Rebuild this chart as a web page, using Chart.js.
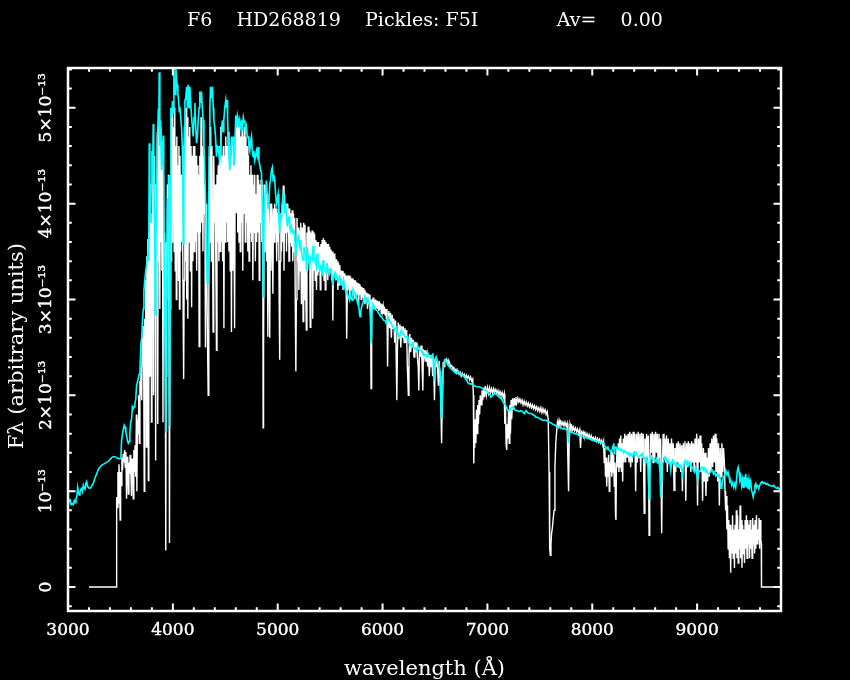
<!DOCTYPE html>
<html>
<head>
<meta charset="utf-8">
<script src="https://cdn.jsdelivr.net/npm/chart.js@4/dist/chart.umd.min.js"></script>
<style>
html,body{margin:0;padding:0;background:#000;overflow:hidden}
canvas{display:block}
</style>
</head>
<body>
<canvas id="c" width="850" height="680"></canvas>
<script>
// ---------- texts ----------
const titleText = "F6    HD268819    Pickles: F5I             Av=    0.00";
const xTitle = "wavelength (Å)";
const yTitle = "Fλ (arbitrary units)  ";

// ---------- axes ----------
const xRange = [3000, 9800];
const yRange = [-0.25, 5.415];           // flux in units of 1e-13
const xTickValues = [3000, 4000, 5000, 6000, 7000, 8000, 9000];
const yTickValues = [0, 1, 2, 3, 4, 5];
const yTickLabels = ["0", "10⁻¹³", "2×10⁻¹³", "3×10⁻¹³", "4×10⁻¹³", "5×10⁻¹³"];
const xMinorStep = 200;
const yMinorStep = 0.2;

// ---------- Pickles F5I template (cyan): [wavelength Å, flux /1e-13] ----------
const templateSpectrum = [
[3000,0.85],[3010,0.90],[3019,0.92],[3030,0.86],[3040,0.87],[3051,0.86],[3060,0.90],[3068,0.88],[3076,0.92],[3085,0.95],[3092,1.04],[3098,1.00],[3106,0.96],[3114,0.98],[3122,1.02],[3130,1.03],[3138,1.00],[3146,1.06],[3154,1.03],[3162,1.02],[3170,1.08],[3178,1.10],[3186,1.05],[3194,1.04],[3202,1.03],[3210,1.03],[3220,1.04],[3230,1.06],[3241,1.08],[3252,1.12],[3262,1.15],[3273,1.18],[3284,1.21],[3295,1.24],[3305,1.25],[3320,1.27],[3336,1.28],[3352,1.29],[3368,1.30],[3384,1.31],[3400,1.33],[3416,1.35],[3432,1.36],[3448,1.36],[3463,1.35],[3480,1.34],[3500,1.34],[3505,1.36],[3511,1.53],[3520,1.60],[3530,1.66],[3536,1.69],[3545,1.67],[3552,1.62],[3560,1.57],[3568,1.52],[3575,1.50],[3583,1.52],[3590,1.62],[3598,1.72],[3606,1.75],[3614,1.88],[3622,1.86],[3630,1.88],[3638,1.91],[3646,1.96],[3654,2.10],[3662,2.14],[3670,2.17],[3678,2.22],[3686,2.26],[3695,2.54],[3703,2.60],[3711,2.80],[3718,2.90],[3724,3.09],[3732,3.20],[3743,3.31],[3750,3.36],[3756,3.41],[3765,3.50],[3770,3.40],[3775,4.63],[3781,3.90],[3788,3.81],[3794,4.20],[3800,4.55],[3806,4.30],[3813,4.83],[3818,4.50],[3823,3.91],[3828,3.50],[3832,2.84],[3838,3.60],[3845,4.06],[3852,4.50],[3861,4.99],[3866,4.80],[3870,5.37],[3876,4.60],[3883,4.87],[3888,4.50],[3892,4.35],[3898,4.50],[3908,4.71],[3913,4.20],[3918,3.27],[3925,2.60],[3931,1.80],[3934,1.61],[3938,2.20],[3944,3.40],[3950,4.06],[3956,4.00],[3962,4.29],[3966,2.50],[3970,1.68],[3975,2.90],[3981,5.00],[3989,4.90],[3997,5.07],[4003,4.95],[4010,5.41],[4016,5.20],[4023,5.14],[4029,5.41],[4035,5.30],[4042,5.24],[4048,5.16],[4054,5.08],[4061,4.96],[4067,5.01],[4075,4.90],[4083,4.80],[4090,4.60],[4095,4.10],[4099,3.58],[4104,4.20],[4110,4.80],[4115,5.08],[4123,5.10],[4131,5.22],[4139,5.00],[4146,5.24],[4154,5.00],[4162,5.22],[4170,5.05],[4178,4.92],[4186,4.80],[4194,4.70],[4202,4.90],[4210,5.05],[4218,4.80],[4226,4.63],[4234,4.70],[4242,4.87],[4250,5.00],[4257,5.17],[4265,5.05],[4273,5.17],[4281,5.00],[4289,4.87],[4297,4.60],[4305,4.35],[4313,4.00],[4321,3.40],[4328,3.17],[4335,3.30],[4340,3.60],[4346,4.59],[4353,5.00],[4359,5.22],[4368,5.10],[4378,5.22],[4385,5.00],[4391,4.87],[4399,4.80],[4407,4.70],[4416,4.49],[4424,4.60],[4432,4.59],[4440,4.50],[4448,4.45],[4456,4.60],[4465,4.80],[4473,4.87],[4480,4.75],[4486,4.87],[4495,5.00],[4505,5.08],[4511,5.00],[4518,5.08],[4522,4.90],[4527,4.70],[4535,4.50],[4543,4.35],[4551,4.50],[4559,4.70],[4567,4.60],[4575,4.70],[4583,4.40],[4591,4.60],[4600,4.92],[4608,4.85],[4615,4.92],[4623,4.87],[4630,4.80],[4638,4.87],[4646,4.80],[4655,4.85],[4664,4.80],[4672,4.90],[4680,4.85],[4686,4.87],[4694,4.75],[4702,4.80],[4710,4.70],[4718,4.70],[4726,4.60],[4734,4.55],[4742,4.65],[4750,4.70],[4758,4.55],[4765,4.49],[4773,4.55],[4781,4.45],[4790,4.50],[4797,4.55],[4805,4.50],[4813,4.59],[4821,4.45],[4829,4.40],[4837,4.35],[4845,4.32],[4852,4.00],[4857,3.40],[4861,3.03],[4866,3.50],[4871,3.90],[4877,4.06],[4884,4.15],[4892,4.24],[4900,4.10],[4908,3.95],[4916,4.00],[4924,4.20],[4932,4.25],[4940,4.35],[4949,4.38],[4956,4.24],[4964,4.30],[4972,4.24],[4980,4.10],[4988,4.00],[4996,4.05],[5004,4.10],[5011,3.85],[5019,3.69],[5027,3.90],[5035,3.83],[5043,4.00],[5051,4.10],[5059,4.05],[5067,3.90],[5076,4.00],[5085,3.85],[5092,3.76],[5100,3.85],[5108,3.86],[5115,3.76],[5121,3.72],[5130,3.76],[5138,3.72],[5146,3.69],[5153,3.72],[5160,3.71],[5166,3.55],[5172,3.45],[5178,3.55],[5186,3.62],[5194,3.66],[5202,3.60],[5210,3.55],[5218,3.62],[5226,3.50],[5234,3.45],[5242,3.41],[5250,3.55],[5258,3.50],[5267,3.48],[5275,3.30],[5281,3.55],[5290,3.45],[5298,3.40],[5305,3.34],[5312,3.44],[5320,3.42],[5330,3.41],[5337,3.56],[5345,3.45],[5353,3.40],[5361,3.38],[5369,3.34],[5375,3.48],[5384,3.40],[5392,3.35],[5400,3.31],[5407,3.34],[5416,3.30],[5426,3.27],[5432,3.41],[5440,3.35],[5448,3.30],[5456,3.30],[5464,3.27],[5470,3.38],[5480,3.30],[5488,3.32],[5495,3.27],[5503,3.30],[5511,3.31],[5520,3.20],[5527,3.15],[5534,3.25],[5543,3.27],[5552,3.22],[5560,3.25],[5568,3.22],[5575,3.20],[5583,3.22],[5591,3.24],[5600,3.18],[5608,3.20],[5615,3.15],[5622,3.13],[5629,3.20],[5637,3.15],[5645,3.10],[5654,3.06],[5660,3.10],[5668,3.05],[5676,3.02],[5686,2.99],[5692,3.06],[5700,3.02],[5711,2.99],[5718,3.10],[5726,3.08],[5734,3.06],[5743,3.06],[5750,3.02],[5756,2.99],[5765,2.99],[5772,2.95],[5780,2.85],[5786,2.82],[5792,2.88],[5800,2.92],[5810,2.96],[5820,2.99],[5829,3.03],[5838,3.00],[5845,3.01],[5851,2.99],[5860,3.01],[5870,2.96],[5878,2.92],[5884,2.80],[5889,2.54],[5894,2.60],[5900,2.90],[5908,2.95],[5918,2.93],[5928,2.90],[5940,2.89],[5950,2.88],[5960,2.86],[5972,2.84],[5982,2.82],[5990,2.82],[6000,2.80],[6012,2.78],[6024,2.78],[6035,2.75],[6044,2.78],[6051,2.82],[6060,2.80],[6067,2.78],[6075,2.76],[6083,2.75],[6095,2.72],[6105,2.70],[6114,2.68],[6122,2.70],[6130,2.71],[6138,2.66],[6146,2.64],[6154,2.63],[6162,2.61],[6172,2.66],[6180,2.68],[6190,2.65],[6200,2.64],[6210,2.62],[6218,2.61],[6225,2.61],[6233,2.60],[6241,2.61],[6250,2.55],[6258,2.53],[6266,2.52],[6273,2.51],[6281,2.54],[6289,2.56],[6297,2.50],[6305,2.49],[6313,2.48],[6321,2.47],[6329,2.50],[6337,2.51],[6345,2.48],[6352,2.48],[6360,2.47],[6368,2.47],[6376,2.45],[6384,2.45],[6392,2.42],[6400,2.43],[6408,2.41],[6416,2.40],[6424,2.42],[6432,2.44],[6440,2.41],[6448,2.40],[6456,2.40],[6464,2.39],[6472,2.42],[6479,2.44],[6486,2.30],[6492,2.16],[6498,2.30],[6505,2.38],[6511,2.40],[6520,2.36],[6530,2.33],[6540,2.30],[6548,2.25],[6555,2.00],[6560,1.77],[6566,1.80],[6572,2.00],[6580,2.30],[6591,2.37],[6600,2.36],[6610,2.35],[6622,2.33],[6630,2.32],[6638,2.30],[6650,2.28],[6660,2.27],[6670,2.26],[6680,2.25],[6690,2.24],[6702,2.23],[6710,2.24],[6718,2.26],[6730,2.24],[6740,2.23],[6750,2.22],[6765,2.21],[6775,2.20],[6781,2.19],[6795,2.17],[6805,2.15],[6815,2.13],[6829,2.12],[6845,2.12],[6860,2.11],[6875,2.10],[6892,2.09],[6910,2.09],[6924,2.09],[6940,2.08],[6955,2.07],[6970,2.06],[6987,2.05],[7000,2.04],[7012,2.02],[7022,2.01],[7035,1.98],[7050,2.00],[7067,2.02],[7080,2.01],[7095,2.00],[7105,1.99],[7115,1.98],[7125,1.97],[7130,1.98],[7140,1.95],[7150,1.93],[7162,1.91],[7172,1.90],[7178,1.88],[7186,1.86],[7194,1.85],[7202,1.84],[7210,1.84],[7220,1.86],[7230,1.87],[7241,1.88],[7250,1.87],[7260,1.85],[7273,1.84],[7285,1.84],[7300,1.83],[7318,1.84],[7335,1.83],[7352,1.81],[7368,1.84],[7384,1.82],[7400,1.81],[7416,1.81],[7432,1.80],[7448,1.79],[7464,1.77],[7479,1.77],[7495,1.76],[7510,1.75],[7527,1.74],[7545,1.74],[7559,1.74],[7575,1.73],[7590,1.72],[7610,1.71],[7622,1.70],[7640,1.69],[7655,1.68],[7670,1.67],[7686,1.67],[7705,1.66],[7720,1.65],[7740,1.65],[7755,1.64],[7765,1.64],[7770,1.55],[7774,1.50],[7779,1.60],[7790,1.62],[7797,1.62],[7815,1.61],[7830,1.60],[7845,1.60],[7860,1.59],[7875,1.58],[7890,1.58],[7908,1.57],[7925,1.56],[7940,1.56],[7955,1.55],[7970,1.55],[7985,1.54],[8000,1.53],[8018,1.53],[8035,1.52],[8050,1.52],[8065,1.51],[8080,1.51],[8095,1.50],[8110,1.50],[8120,1.47],[8130,1.46],[8140,1.44],[8150,1.46],[8160,1.43],[8170,1.42],[8178,1.41],[8190,1.44],[8200,1.48],[8205,1.50],[8209,1.39],[8215,1.45],[8225,1.46],[8235,1.44],[8245,1.45],[8255,1.43],[8265,1.44],[8275,1.42],[8289,1.43],[8300,1.40],[8310,1.42],[8320,1.41],[8335,1.39],[8345,1.40],[8355,1.37],[8365,1.39],[8384,1.36],[8392,1.40],[8400,1.41],[8410,1.38],[8420,1.40],[8430,1.37],[8447,1.36],[8460,1.38],[8470,1.37],[8479,1.39],[8490,1.34],[8500,1.35],[8511,1.29],[8520,1.34],[8530,1.30],[8536,1.10],[8542,0.92],[8548,1.15],[8556,1.32],[8565,1.36],[8574,1.34],[8585,1.33],[8600,1.31],[8610,1.34],[8620,1.30],[8630,1.32],[8638,1.29],[8646,1.20],[8652,0.94],[8658,1.10],[8665,1.28],[8675,1.30],[8685,1.33],[8695,1.36],[8705,1.34],[8715,1.30],[8725,1.32],[8733,1.29],[8741,1.30],[8749,1.22],[8757,1.30],[8765,1.32],[8775,1.28],[8785,1.30],[8795,1.27],[8805,1.29],[8815,1.26],[8825,1.28],[8835,1.25],[8845,1.27],[8855,1.22],[8860,1.18],[8866,1.24],[8875,1.28],[8885,1.32],[8892,1.30],[8900,1.28],[8910,1.31],[8920,1.27],[8930,1.30],[8940,1.26],[8955,1.25],[8965,1.22],[8975,1.20],[8987,1.25],[8997,1.18],[9005,1.11],[9012,1.18],[9019,1.20],[9030,1.22],[9040,1.25],[9051,1.25],[9060,1.22],[9070,1.24],[9080,1.20],[9090,1.22],[9100,1.19],[9114,1.18],[9125,1.20],[9135,1.22],[9146,1.22],[9156,1.18],[9166,1.20],[9178,1.16],[9190,1.18],[9200,1.15],[9210,1.17],[9220,1.12],[9228,1.03],[9236,1.05],[9244,1.12],[9255,1.15],[9265,1.18],[9273,1.22],[9285,1.17],[9295,1.20],[9305,1.15],[9312,1.10],[9320,1.11],[9330,1.06],[9340,1.09],[9350,1.04],[9360,1.08],[9368,1.04],[9376,1.12],[9384,1.22],[9392,1.25],[9400,1.20],[9408,1.12],[9416,1.15],[9424,1.06],[9432,1.12],[9440,1.04],[9447,1.15],[9455,1.05],[9463,1.18],[9471,1.04],[9479,1.14],[9487,1.02],[9495,1.12],[9503,1.06],[9511,1.10],[9519,1.01],[9527,0.98],[9535,0.94],[9543,0.99],[9551,1.06],[9559,1.08],[9567,1.04],[9575,1.06],[9583,1.05],[9590,1.04],[9600,1.07],[9610,1.09],[9620,1.10],[9632,1.08],[9645,1.09],[9660,1.07],[9672,1.08],[9686,1.06],[9700,1.06],[9717,1.05],[9730,1.06],[9745,1.04],[9760,1.03],[9770,1.04],[9781,1.02],[9800,1.03]
];

// ---------- HD268819 observed spectrum (white): [wavelength Å, flux /1e-13] ----------
const observedSpectrum = [
[3200,0],[3462,0],[3464,0.94],[3470,0.83],[3476,1.20],[3480,0.88],[3486,1.28],[3492,1.10],[3497,0.70],[3502,1.20],[3508,1.06],[3514,1.35],[3520,1.22],[3527,1.39],[3533,1.30],[3540,1.43],[3546,1.25],[3552,1.41],[3558,0.92],[3563,1.36],[3570,1.30],[3575,0.97],[3581,1.30],[3587,1.18],[3593,1.38],[3599,1.20],[3605,0.95],[3611,1.34],[3617,1.25],[3622,0.92],[3628,1.43],[3634,1.20],[3640,1.48],[3646,1.15],[3652,1.80],[3657,1.00],[3662,1.75],[3668,1.60],[3674,2.00],[3680,1.50],[3686,2.15],[3692,2.00],[3697,2.30],[3703,1.95],[3708,2.60],[3713,2.30],[3718,2.72],[3722,2.30],[3727,1.00],[3732,2.80],[3737,2.40],[3742,3.20],[3747,1.46],[3752,3.45],[3757,2.26],[3762,3.63],[3766,1.11],[3771,3.70],
[3776,2.20],[3781,3.85],[3786,3.00],[3791,3.80],[3796,1.72],[3801,3.90],[3806,3.20],[3811,4.45],[3816,2.00],[3821,4.50],[3826,3.50],[3831,4.20],[3836,1.32],[3841,4.10],[3846,3.30],[3851,4.75],[3856,1.70],[3861,4.80],[3866,3.40],[3871,4.70],[3876,2.90],[3881,4.80],[3886,3.60],[3891,4.65],[3896,3.30],[3901,4.40],[3906,1.72],[3911,4.30],[3916,3.10],[3921,3.70],[3926,3.30],[3931,3.50],[3934,0.38],[3938,3.60],[3943,3.00],[3948,4.20],[3953,3.50],[3958,4.30],[3963,2.60],[3968,0.46],[3973,3.20],[3978,4.20],[3983,3.40],[3988,4.95],[3993,3.60],[3998,5.00],[4003,3.80],[4008,4.80],[4013,3.50],[4018,5.00],[4023,3.30],[4028,4.60],[4033,3.00],[4038,4.70],[4043,3.50],[4048,4.40],[4053,3.20],[4058,4.60],
[4063,2.90],[4068,4.50],[4074,3.50],[4080,4.30],[4086,3.60],[4092,4.00],[4098,2.90],[4103,2.17],[4108,3.20],[4114,4.60],[4120,3.40],[4126,5.00],[4132,3.00],[4138,4.90],[4143,2.80],[4149,4.70],[4155,3.60],[4161,4.80],[4167,3.30],[4173,4.60],[4179,2.92],[4185,4.50],[4191,3.40],[4197,4.60],[4203,3.50],[4209,4.60],[4215,3.60],[4221,4.50],[4227,3.30],[4233,4.40],[4239,3.70],[4245,4.30],[4251,2.51],[4257,4.50],[4263,3.70],[4269,4.90],[4275,3.80],[4281,4.60],[4287,3.50],[4293,4.50],[4299,3.90],[4305,4.20],[4311,2.50],[4317,4.00],[4323,3.40],[4330,2.60],[4337,2.00],[4343,3.00],[4349,4.50],[4355,3.60],[4361,4.80],[4367,3.40],[4373,4.60],[4379,3.50],[4384,2.66],[4390,4.50],[4397,3.80],[4403,4.20],[4409,3.50],[4416,2.47],[4421,4.30],[4427,3.60],[4433,4.40],[4439,3.40],[4445,4.60],[4451,3.50],[4457,4.80],[4463,3.60],[4469,4.50],[4475,3.40],[4481,4.60],[4487,2.70],[4493,4.50],[4499,3.60],[4505,4.70],[4511,3.80],[4517,4.60],[4523,3.60],[4529,4.75],[4535,3.50],[4541,4.60],[4547,3.30],[4553,4.50],[4559,2.66],[4565,4.60],[4571,3.30],[4577,4.40],[4583,3.70],[4589,2.70],[4595,4.50],[4601,4.80],[4607,3.90],[4613,4.90],[4619,3.70],[4625,4.80],[4631,3.60],[4637,4.80],[4643,3.50],[4649,4.70],[4655,3.80],[4661,4.80],[4667,3.30],[4673,4.70],[4679,3.90],[4685,4.80],[4691,3.60],[4697,4.70],[4703,3.80],[4709,4.60],[4715,3.50],[4721,4.50],[4727,3.40],[4733,4.30],[4739,3.70],[4745,4.40],[4751,3.60],[4757,4.30],[4763,3.20],[4769,4.20],[4775,3.70],[4781,4.30],[4787,3.40],[4793,4.10],[4799,3.60],
[4805,4.30],[4812,3.70],[4818,4.25],[4824,3.20],[4830,4.20],[4836,3.80],[4842,4.25],[4848,3.60],[4854,4.20],[4858,3.50],[4861,1.66],[4865,2.40],[4870,3.80],[4876,4.20],[4882,3.50],[4888,4.15],[4894,3.40],[4900,4.10],[4906,2.61],[4912,4.00],[4918,3.60],[4924,2.60],[4930,4.00],[4936,3.30],[4942,4.00],[4948,3.80],[4954,3.06],[4960,3.95],[4966,3.60],[4972,4.00],[4978,3.70],[4984,3.95],[4990,3.40],[4996,3.90],[5002,3.60],[5008,3.95],[5014,3.00],[5019,2.37],[5024,3.40],[5030,3.90],[5036,3.50],[5042,4.00],[5048,3.60],[5054,4.19],[5060,3.30],[5066,4.10],[5072,3.70],[5078,4.00],[5084,3.50],[5090,4.00],[5096,3.70],[5102,3.95],[5108,3.40],[5114,3.95],[5120,3.60],[5126,3.90],[5132,3.55],[5138,3.93],[5144,3.40],[5150,3.90],[5156,3.50],[5162,3.85],[5168,2.90],[5173,2.25],[5178,3.00],[5184,3.85],[5190,3.40],[5196,3.75],[5202,3.10],[5208,3.72],[5214,3.30],[5220,3.80],[5226,2.95],[5232,3.75],[5238,3.50],[5242,2.77],[5248,3.80],[5254,3.00],[5260,3.78],[5266,3.20],[5273,2.68],[5279,3.70],[5285,3.30],[5291,3.76],[5297,3.40],[5304,3.72],[5310,2.71],[5316,3.70],[5322,3.40],[5328,3.72],[5334,2.80],[5340,3.70],[5346,3.30],[5352,3.68],[5358,3.20],[5364,3.62],[5370,3.10],[5376,3.60],[5382,3.25],[5388,3.60],[5394,3.30],[5400,3.55],[5406,3.10],[5412,3.58],[5418,3.35],[5424,3.62],[5430,3.30],[5436,3.64],[5442,3.20],[5448,3.62],[5454,3.10],[5460,3.60],[5466,3.35],[5472,3.58],[5478,3.20],[5484,3.58],[5490,3.30],[5496,3.55],[5502,3.35],[5508,3.52],[5514,3.20],[5520,3.50],[5526,2.78],[5532,3.48],[5538,3.25],[5544,3.48],[5550,3.30],[5556,3.42],[5562,3.20],[5568,3.40],[5574,3.10],[5580,3.38],[5586,3.15],[5592,3.36],[5598,3.20],[5604,3.30],[5610,3.15],[5616,3.30],[5622,3.10],[5628,3.28],[5634,3.15],[5640,3.27],[5646,3.10],[5652,3.25],[5658,2.59],[5664,3.10],[5670,3.25],[5676,3.15],[5682,3.25],[5688,3.00],[5694,3.24],[5700,3.10],[5706,3.22],[5712,3.05],[5718,3.22],[5724,3.10],[5730,3.20],[5736,3.00],[5742,3.20],[5748,3.05],[5754,3.18],[5760,3.08],[5766,3.17],[5772,2.95],[5778,3.16],[5784,3.05],[5790,3.14],[5796,3.00],[5802,3.13],[5808,3.02],[5814,3.12],[5820,3.00],[5826,3.10],[5832,2.95],[5838,3.08],[5844,3.00],[5850,3.07],[5856,2.90],[5862,3.06],[5868,2.95],[5874,3.05],[5880,2.90],[5886,3.00],[5890,2.07],[5894,2.50],[5898,3.00],[5904,2.95],[5910,3.02],[5916,2.90],[5922,3.00],[5928,2.90],[5934,3.00],[5940,2.92],[5946,2.99],[5952,2.90],[5958,2.98],[5964,2.88],[5970,2.98],[5976,2.90],[5982,2.96],[5988,2.85],[5994,2.95],[6000,2.88],[6006,2.93],[6012,2.85],[6018,2.92],[6024,2.84],[6030,2.90],[6036,2.80],[6042,2.90],[6048,2.30],[6054,2.85],
[6060,2.88],[6068,2.70],[6076,2.86],[6084,2.60],[6092,2.84],[6100,2.70],[6108,2.80],[6116,2.55],[6124,2.78],[6130,2.40],[6136,1.95],[6142,2.50],[6150,2.76],[6158,2.60],[6166,2.74],[6174,2.50],[6182,2.72],[6190,2.60],[6198,2.72],[6206,2.55],[6214,2.70],[6222,2.55],[6230,2.68],[6236,2.30],[6241,2.16],[6246,2.00],[6252,2.40],[6260,2.64],[6268,2.45],[6276,2.60],[6284,2.50],[6292,2.58],[6300,2.40],[6308,2.56],[6316,2.45],[6324,2.55],[6332,2.40],[6340,2.30],[6346,2.05],[6352,2.50],[6360,2.40],[6368,2.52],[6376,2.35],[6384,2.05],[6390,2.48],[6398,2.40],[6406,2.47],[6414,2.35],[6422,2.45],[6430,2.30],[6438,2.44],[6446,2.20],[6454,2.42],[6462,2.30],[6470,2.41],[6478,2.20],[6486,2.40],[6495,1.95],[6502,2.38],[6510,2.30],[6518,2.38],[6526,2.25],[6533,2.10],[6540,2.36],[6548,2.20],[6556,1.90],[6563,1.50],[6570,2.00],[6578,2.35],[6586,2.30],[6594,2.35],[6602,2.37],[6610,2.38],[6618,2.33],[6626,2.36],[6634,2.30],[6642,2.33],[6650,2.30],[6660,2.31],[6670,2.27],[6680,2.29],[6690,2.25],[6700,2.27],[6710,2.23],[6720,2.25],[6730,2.22],[6740,2.24],[6750,2.20],[6760,2.23],[6770,2.20],[6780,2.22],[6790,2.18],[6800,2.21],[6810,2.18],[6820,2.20],[6830,2.16],[6840,2.19],[6850,2.15],[6860,2.17],[6866,2.00],[6870,1.29],[6874,1.60],[6878,1.45],[6884,1.75],[6890,1.50],[6896,1.85],[6902,1.60],[6908,1.90],[6914,1.70],[6920,1.95],[6926,1.80],[6932,2.00],[6940,1.90],[6948,2.05],[6956,1.95],[6964,2.08],[6972,1.98],[6980,2.10],[6990,2.00],[7000,2.08],[7010,2.02],[7020,2.08],[7030,2.03],[7040,2.07],[7050,2.02],[7060,2.07],[7070,2.03],[7080,2.06],[7090,2.02],[7100,2.05],[7110,2.00],[7120,2.04],[7130,2.00],[7140,2.03],[7150,1.98],[7160,2.02],[7166,1.70],[7172,1.90],[7178,1.50],[7184,1.43],[7190,1.70],[7196,1.55],[7202,1.85],[7208,1.50],[7214,1.90],[7220,1.60],[7226,1.95],[7232,1.75],[7240,1.97],[7248,1.85],[7256,1.97],[7264,1.90],[7272,1.98],[7280,1.92],[7290,1.97],[7300,1.93],[7310,1.96],[7320,1.92],[7330,1.95],[7340,1.90],[7350,1.94],[7360,1.90],[7370,1.93],[7380,1.89],[7390,1.92],[7400,1.88],[7410,1.91],[7420,1.87],[7430,1.90],[7440,1.86],[7450,1.89],[7460,1.85],[7470,1.88],[7480,1.84],[7490,1.87],[7500,1.83],[7510,1.87],[7520,1.82],[7530,1.86],[7540,1.82],[7550,1.85],[7560,1.80],[7570,1.83],[7580,1.75],[7588,1.20],[7594,0.40],[7600,0.33],[7606,0.45],[7612,0.56],[7620,0.62],[7628,0.72],[7636,0.80],[7644,1.25],[7652,1.50],[7660,1.62],[7668,1.72],[7676,1.68],[7684,1.74],[7692,1.70],[7700,1.73],[7710,1.69],[7720,1.72],[7730,1.68],[7740,1.72],[7750,1.68],[7760,1.71],[7768,1.30],[7774,1.00],[7780,1.50],[7788,1.70],[7796,1.66],[7804,1.68],[7812,1.64],[7820,1.67],[7830,1.63],[7840,1.66],[7850,1.62],[7860,1.65],[7870,1.60],[7880,1.64],[7888,1.45],[7896,1.62],[7904,1.60],[7912,1.62],[7920,1.58],[7930,1.61],[7940,1.57],[7950,1.60],[7960,1.56],[7970,1.59],[7980,1.55],[7990,1.58],[8000,1.54],
[8010,1.56],[8020,1.53],[8030,1.56],[8040,1.52],[8050,1.55],[8060,1.51],[8070,1.54],[8080,1.50],[8090,1.53],[8100,1.48],[8108,1.52],[8114,1.30],[8120,1.45],[8126,1.15],[8132,1.35],[8138,1.05],[8144,1.30],[8150,1.15],[8156,1.38],[8162,1.00],[8168,1.30],[8174,1.20],[8180,1.42],[8186,1.15],[8192,1.40],[8198,1.20],[8204,1.38],[8210,1.05],[8216,1.30],[8222,0.75],[8226,0.70],[8230,1.20],[8236,1.45],[8242,1.25],[8248,1.50],[8254,1.20],[8260,1.55],[8266,1.25],[8272,1.58],[8278,1.20],[8284,1.50],[8290,1.10],[8296,1.55],[8302,1.30],[8310,1.60],[8318,1.30],[8326,1.58],[8334,1.35],[8342,1.60],[8350,1.30],[8358,1.62],[8366,1.25],[8374,1.60],[8382,1.30],[8390,1.62],[8398,1.40],[8406,1.60],[8414,1.00],[8422,1.60],[8430,1.30],[8438,1.62],[8446,1.35],[8454,1.60],[8462,1.20],[8470,1.61],[8478,1.35],[8486,1.60],[8495,0.77],[8502,1.55],[8510,1.30],[8518,1.60],[8526,1.35],[8534,1.58],[8542,0.54],[8548,1.20],[8556,1.60],[8564,1.40],[8572,1.62],[8580,1.30],[8588,1.60],[8596,1.35],[8604,1.62],[8612,1.40],[8620,1.60],[8628,1.30],[8636,1.60],[8644,1.35],[8652,1.55],[8662,0.56],[8668,1.20],[8676,1.60],[8684,1.35],[8692,1.55],[8700,1.30],[8708,1.58],[8716,1.20],[8724,1.55],[8732,1.30],[8740,1.50],[8748,1.25],[8756,1.55],[8764,1.30],[8772,1.50],[8780,1.01],[8788,1.45],[8796,1.20],[8804,1.50],[8812,1.30],[8820,1.52],[8828,1.25],[8836,1.50],[8844,1.20],[8852,1.48],[8860,1.00],[8868,1.50],[8876,1.30],[8884,1.52],[8892,0.90],[8900,1.50],[8908,1.25],[8916,1.52],[8924,1.30],[8932,1.50],[8940,1.20],[8948,1.52],[8956,1.30],[8964,1.50],[8972,1.20],[8980,1.55],[8988,1.30],[8996,1.60],[9004,0.85],[9012,1.55],[9020,1.30],[9028,1.58],[9036,1.20],[9044,1.50],[9052,0.90],[9060,1.45],[9068,1.10],[9076,1.40],[9084,0.95],[9092,1.35],[9100,1.10],[9108,1.45],[9116,1.15],[9124,1.50],[9132,1.20],[9140,1.55],[9148,1.25],[9156,1.58],[9164,1.30],[9172,1.60],[9180,1.20],[9188,1.55],[9196,1.10],[9204,1.50],[9212,0.85],[9220,1.45],[9228,1.15],[9236,1.50],[9244,1.20],[9252,1.45],[9260,1.30],[9266,1.00],[9272,0.80],[9278,0.95],[9284,0.60],[9290,0.85],[9296,0.40],[9302,0.70],[9308,0.30],[9314,0.65],[9320,0.15],[9326,0.60],[9332,0.35],[9338,0.75],[9344,0.30],[9350,0.60],[9356,0.20],[9362,0.65],[9368,0.35],[9374,0.80],[9380,0.30],[9386,0.75],[9392,0.25],[9398,0.60],[9404,0.40],[9410,0.85],[9416,0.30],[9422,0.70],[9428,0.20],[9434,0.65],[9440,0.35],[9446,0.60],[9452,0.25],[9458,0.70],[9464,0.40],[9470,0.75],[9476,0.30],[9482,0.70],[9488,0.45],[9494,0.65],[9500,0.30],[9506,0.70],[9512,0.40],[9518,0.60],[9524,0.30],[9530,0.72],[9536,0.45],[9542,0.65],[9548,0.35],[9554,0.70],[9560,0.40],[9566,0.75],[9572,0.45],[9578,0.60],[9584,0.50],[9590,0.72],[9596,0.40],[9602,0.70],[9608,0.50],[9612,0.45],[9614,0.00],[9780,0.00]
];

// ---------- styles ----------
const FONT = "'DejaVu Serif', 'Liberation Serif', serif";
const toPoints = arr => arr.map(p => ({x: p[0], y: p[1]}));

const pgplotFrame = {
  id: 'pgplotFrame',
  beforeDraw(chart) {
    const c = chart.ctx;
    c.save();
    c.fillStyle = '#000';
    c.fillRect(0, 0, chart.width, chart.height);
    c.restore();
  },
  afterDatasetsDraw(chart) {
    const {ctx, chartArea: a, scales: {x, y}} = chart;
    ctx.save();
    ctx.strokeStyle = '#fff';
    ctx.lineWidth = 2;
    ctx.beginPath();
    const nx = Math.round((xRange[1] - xRange[0]) / xMinorStep);
    for (let i = 0; i <= nx; i++) {
      const v = xRange[0] + i * xMinorStep;
      const px = x.getPixelForValue(v);
      const L = xTickValues.includes(v) ? 7.5 : 3.8;
      ctx.moveTo(px, a.bottom); ctx.lineTo(px, a.bottom - L);
      ctx.moveTo(px, a.top); ctx.lineTo(px, a.top + L);
    }
    const y0 = Math.ceil(yRange[0] / yMinorStep), y1 = Math.floor(yRange[1] / yMinorStep);
    for (let i = y0; i <= y1; i++) {
      const v = +(i * yMinorStep).toFixed(4);
      const py = y.getPixelForValue(v);
      const L = yTickValues.includes(v) ? 7.5 : 3.8;
      ctx.moveTo(a.left, py); ctx.lineTo(a.left + L, py);
      ctx.moveTo(a.right, py); ctx.lineTo(a.right - L, py);
    }
    ctx.stroke();
    ctx.lineWidth = 2.5;
    ctx.strokeRect(a.left, a.top, a.right - a.left, a.bottom - a.top);
    ctx.restore();
  }
};

new Chart(document.getElementById('c'), {
  type: 'line',
  data: {
    datasets: [
      { label: 'Pickles F5I', data: toPoints(templateSpectrum), borderColor: '#00ffff',
        borderWidth: 1.6, pointRadius: 0, tension: 0, fill: false },
      { label: 'HD268819', data: toPoints(observedSpectrum), borderColor: '#ffffff',
        borderWidth: 1.4, pointRadius: 0, tension: 0, fill: false }
    ]
  },
  options: {
    responsive: false,
    animation: false,
    devicePixelRatio: 1,
    parsing: false,
    layout: { padding: 0 },
    plugins: {
      legend: { display: false },
      tooltip: { enabled: false },
      title: { display: true, text: titleText, color: '#fff',
        font: { family: FONT, size: 19, weight: 'normal' },
        padding: { top: 10, bottom: 35.2 } }
    },
    scales: {
      x: {
        type: 'linear', min: xRange[0], max: xRange[1],
        afterBuildTicks: s => { s.ticks = xTickValues.map(v => ({value: v})); },
        afterFit: s => { s.height = 69; },
        grid: { display: false, drawTicks: false },
        border: { display: false },
        ticks: { color: '#fff', font: { family: FONT, size: 17 }, padding: 9,
          textStrokeColor: '#fff', textStrokeWidth: 0.4,
          maxRotation: 0, autoSkip: false, callback: v => String(v) },
        title: { display: true, text: xTitle, color: '#fff',
          font: { family: FONT, size: 21 }, padding: { top: 0, bottom: -2 } }
      },
      y: {
        type: 'linear', min: yRange[0], max: yRange[1],
        afterBuildTicks: s => { s.ticks = yTickValues.map(v => ({value: v})); },
        afterFit: s => { s.width = 68; },
        grid: { display: false, drawTicks: false },
        border: { display: false },
        ticks: { color: '#fff', font: { family: FONT, size: 17 }, minRotation: 90, maxRotation: 90,
          textStrokeColor: '#fff', textStrokeWidth: 0.4,
          crossAlign: 'center', padding: -13, autoSkip: false,
          callback: v => yTickLabels[yTickValues.indexOf(v)] },
        title: { display: true, text: yTitle, color: '#fff',
          font: { family: FONT, size: 21 }, padding: { top: 5, bottom: 0 } }
      },
      yRight: {
        type: 'linear', position: 'right', display: true,
        afterFit: s => { s.width = 69; },
        grid: { display: false, drawTicks: false },
        border: { display: false },
        ticks: { display: false }
      }
    }
  },
  plugins: [pgplotFrame]
});
</script>
</body>
</html>
